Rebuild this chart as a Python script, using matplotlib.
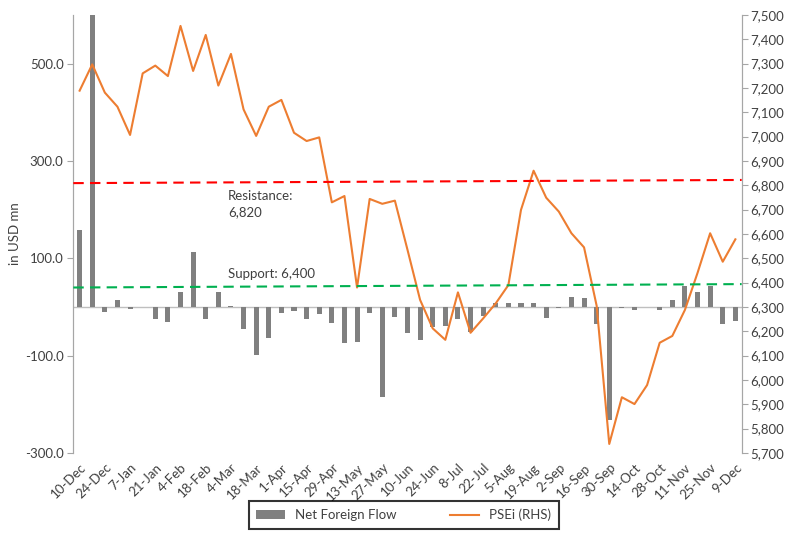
import matplotlib
matplotlib.use("Agg")
import matplotlib.pyplot as plt
import numpy as np
from matplotlib.lines import Line2D
from matplotlib.patches import Patch

plt.rcParams['font.family'] = ['Lato', 'DejaVu Sans']

weeks = ["10-Dec", "17-Dec", "24-Dec", "31-Dec", "7-Jan", "14-Jan", "21-Jan", "28-Jan",
         "4-Feb", "11-Feb", "18-Feb", "25-Feb", "4-Mar", "11-Mar", "18-Mar", "25-Mar",
         "1-Apr", "8-Apr", "15-Apr", "22-Apr", "29-Apr", "6-May", "13-May", "20-May",
         "27-May", "3-Jun", "10-Jun", "17-Jun", "24-Jun", "1-Jul", "8-Jul", "15-Jul",
         "22-Jul", "29-Jul", "5-Aug", "12-Aug", "19-Aug", "26-Aug", "2-Sep", "9-Sep",
         "16-Sep", "23-Sep", "30-Sep", "7-Oct", "14-Oct", "21-Oct", "28-Oct", "4-Nov",
         "11-Nov", "18-Nov", "25-Nov", "2-Dec", "9-Dec"]

net_flow = [158, 640, -11, 14, -5, 0, -25, -30, 30, 112,
            -25, 30, 3, -46, -98, -63, -12, -9, -24, -15,
            -33, -75, -72, -12, -186, -21, -53, -68, -42, -40,
            -25, -51, -18, 9, 9, 9, 9, -22, -3, 21,
            19, -36, -233, -2, -7, 0, -7, 15, 43, 30,
            43, -34, -28]

psei = [7189, 7297, 7181, 7123, 7007, 7260, 7292, 7249, 7455, 7270,
        7418, 7210, 7340, 7112, 7003, 7123, 7151, 7016, 6982, 6997,
        6730, 6756, 6380, 6744, 6724, 6737, 6535, 6329, 6212, 6165,
        6360, 6194, 6253, 6315, 6390, 6699, 6860, 6749, 6692, 6603,
        6545, 6305, 5737, 5929, 5901, 5979, 6153, 6181, 6288, 6440,
        6603, 6486, 6578]

resistance_ends = [6809, 6822]
support_ends = [6380, 6394]

left_ticks = [-300, -100, 100, 300, 500]
right_ticks = list(range(5700, 7501, 100))

fig = plt.figure(figsize=(7.85, 5.39), dpi=100)
ax = fig.add_axes([0.0934, 0.1596, 0.8514, 0.8126])
ax2 = ax.twinx()

x = np.arange(len(weeks))
tcol = '#404040'
fs = 9.5

ax.bar(x, net_flow, width=0.4, color='#808080', zorder=2)
ax.axhline(0, color='#bfbfbf', lw=1, zorder=1)
ax.set_ylim(-300, 600)
ax.set_yticks(left_ticks)
ax.set_yticklabels([f"{v:.1f}" for v in left_ticks], color=tcol, fontsize=fs)
ax.set_xlim(-0.5, len(weeks) - 0.5)
ax.set_xticks(x[::2])
ax.set_xticklabels(weeks[::2], rotation=45, ha='right', rotation_mode='anchor',
                   color=tcol, fontsize=fs)
ax.tick_params(axis='x', length=0, pad=6)
ax.tick_params(axis='y', length=4, color='#a6a6a6', pad=3)
ax.set_ylabel("in USD mn", color=tcol, fontsize=fs, labelpad=3)

ax2.plot(x, psei, color='#ED7D31', lw=1.5, zorder=3)
ax2.plot([-0.5, len(weeks) - 0.5], resistance_ends, color='#FF0000', lw=1.5,
         ls=(0, (5, 3)), zorder=4)
ax2.plot([-0.5, len(weeks) - 0.5], support_ends, color='#00B050', lw=1.5,
         ls=(0, (5, 3)), zorder=4)
ax2.set_ylim(5700, 7500)
ax2.set_yticks(right_ticks)
ax2.set_yticklabels([f"{v:,}" for v in right_ticks], color=tcol, fontsize=fs)
ax2.tick_params(axis='y', length=4, color='#a6a6a6', pad=2)

ax2.text(11.75, 6723, "Resistance:\n6,820", color=tcol, fontsize=fs,
         va='center', ha='left', linespacing=1.5)
ax2.text(11.75, 6435, "Support: 6,400", color=tcol, fontsize=fs,
         va='center', ha='left')

for a in (ax, ax2):
    a.spines['top'].set_visible(False)
    a.spines['bottom'].set_visible(False)
    a.spines['left'].set_color('#a6a6a6')
    a.spines['right'].set_color('#a6a6a6')

handles = [Patch(facecolor='#808080', edgecolor='none', label='Net Foreign Flow'),
           Line2D([0], [0], color='#ED7D31', lw=1.5, label='PSEi (RHS)')]
leg = fig.legend(handles=handles, loc='center', bbox_to_anchor=(0.5141, 0.0445),
                 ncol=2, frameon=True, fancybox=False, fontsize=fs,
                 handlelength=2.2, columnspacing=4.0, borderpad=0.55,
                 handletextpad=0.8)
leg.get_frame().set_edgecolor('black')
leg.get_frame().set_linewidth(1.5)
for t in leg.get_texts():
    t.set_color(tcol)

fig.savefig("out.png", dpi=100)
